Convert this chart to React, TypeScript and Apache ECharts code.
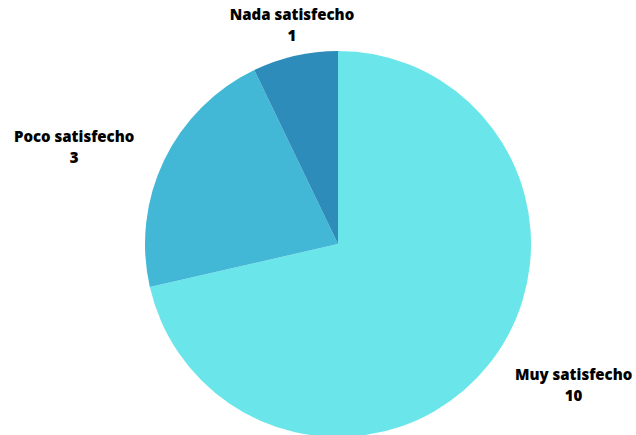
import React, { useEffect, useRef } from "react";
import * as echarts from "echarts";

const categories = ["Muy satisfecho", "Poco satisfecho", "Nada satisfecho"];
const values = [10, 3, 1];
const colors = ["#6ae6ea", "#42b8d6", "#2e8cba"];

export default function App() {
  const ref = useRef<HTMLDivElement>(null);
  useEffect(() => {
    document.body.style.margin = "0";
    const chart = echarts.init(ref.current!, null, { renderer: "svg" });
    const txt = { align: "center", fontFamily: "Open Sans", fontWeight: 800, fontSize: 15, color: "#000", lineHeight: 21 };
    chart.setOption({
      animation: false,
      backgroundColor: "#ffffff",
      series: [
        {
          type: "pie",
          center: [338, 244],
          radius: 193,
          startAngle: 90,
          clockwise: true,
          avoidLabelOverlap: false,
          data: categories.map((name, i) => ({
            name,
            value: values[i],
            itemStyle: { color: colors[i] },
          })),
          label: {
            show: true,
            position: "outside",
            formatter: "{n|{b}}\n{v|{c}}",
            fontFamily: "Open Sans",
            fontWeight: 800,
            fontSize: 15,
            color: "#000000",
            distanceToLabelLine: 1,
            rich: { n: txt, v: txt },
          },
          labelLine: { show: false, length: 32, length2: 0 },
          labelLayout: (params: any) => {
            if (params.dataIndex === 2) {
              return { align: "center", dx: 5 };
            }
            return {};
          },
        },
      ],
    });
    return () => chart.dispose();
  }, []);
  return <div ref={ref} style={{ width: 636, height: 435 }} />;
}
